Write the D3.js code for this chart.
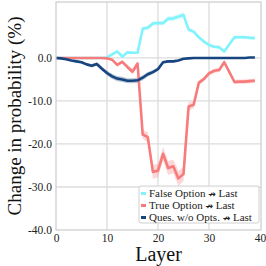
<!DOCTYPE html>
<html>
<head>
<meta charset="utf-8">
<script src="https://cdn.jsdelivr.net/npm/d3@7"></script>
<style>
  body { margin: 0; background: #fff; }
  svg { display: block; }
</style>
</head>
<body>
<svg id="chart"></svg>
<script>
// values, layers 0..39
const layers = d3.range(0, 40);

const falseOpt = [0, 0, 0, 0, 0, 0, 0, 0, 0, 0,
  0.1, 0.8, 1.5, 0.3, 1.3, 1.2, 1.2, 6.8, 7.0, 8.0,
  8.1, 8.1, 9.1, 9.2, 9.6, 10.0, 6.6, 6.1, 4.8, 3.8,
  3.0, 2.6, 2.5, 1.5, 3.2, 4.8, 4.8, 4.8, 4.7, 4.6];
const trueOpt = [0, 0, 0, 0, 0, 0, 0, 0, 0, 0,
  -0.1, -0.4, -1.6, -0.9, -2.1, -3.2, -1.3, -17.8, -18.4, -26.5,
  -26.2, -22.3, -25.6, -25.2, -28.0, -27.0, -11.3, -10.9, -5.8, -4.9,
  -3.6, -3.0, -2.8, -1.0, -3.3, -5.6, -5.5, -5.5, -5.4, -5.3];
const quesOnly = [0, -0.1, -0.3, -0.6, -0.8, -1.0, -1.5, -1.8, -1.4, -2.5,
  -3.5, -4.3, -4.8, -5.0, -5.3, -5.3, -5.2, -4.6, -3.8, -3.3,
  -2.6, -1.0, -0.8, -0.8, -0.6, -0.2, -0.1, 0, 0, 0,
  0, 0, 0, 0, 0, 0, 0, 0, 0.1, 0.1];

// half width of the shaded band
const falseErr = [0, 0, 0, 0, 0, 0, 0, 0, 0, 0.1,
  0.2, 0.3, 0.3, 0.3, 0.3, 0.3, 0.3, 0.5, 0.5, 0.5,
  0.5, 0.5, 0.6, 0.6, 0.6, 0.6, 0.5, 0.4, 0.4, 0.4,
  0.4, 0.4, 0.4, 0.4, 0.4, 0.4, 0.4, 0.4, 0.4, 0.4];
const trueErr = [0, 0, 0, 0, 0, 0, 0, 0, 0, 0,
  0.1, 0.2, 0.4, 0.4, 0.5, 0.6, 0.6, 1.0, 1.2, 1.6,
  1.6, 1.6, 1.6, 1.6, 1.8, 1.6, 1.0, 0.8, 0.6, 0.5,
  0.5, 0.5, 0.5, 0.5, 0.5, 0.5, 0.5, 0.5, 0.5, 0.5];
const quesErr = [0, 0.1, 0.2, 0.2, 0.3, 0.3, 0.3, 0.4, 0.4, 0.5,
  0.5, 0.6, 0.6, 0.6, 0.6, 0.6, 0.6, 0.6, 0.5, 0.5,
  0.4, 0.3, 0.3, 0.3, 0.2, 0.2, 0.1, 0.1, 0.1, 0.1,
  0.1, 0.1, 0.1, 0.1, 0.1, 0.1, 0.1, 0.1, 0.1, 0.1];

const seriesNames = ["False Option", "True Option", "Ques. w/o Opts."];
const colors = ["#80f3fd", "#f77b7b", "#17457f"];

const xTicks = [0, 10, 20, 30, 40];
const yTicks = [0, -10, -20, -30, -40];

const series = [
  { name: seriesNames[0], values: falseOpt, err: falseErr, color: colors[0] },
  { name: seriesNames[1], values: trueOpt, err: trueErr, color: colors[1] },
  { name: seriesNames[2], values: quesOnly, err: quesErr, color: colors[2] },
];

const W = 266, H = 266;
const margin = { top: 2, right: 5, bottom: 36, left: 56 };
const svg = d3.select("#chart").attr("width", W).attr("height", H);

const x = d3.scaleLinear().domain([0, 40.2]).range([margin.left, W - margin.right]);
const y = d3.scaleLinear().domain([-40, 13]).range([H - margin.bottom, margin.top]);

const font = "'Liberation Serif', 'DejaVu Serif', serif";
const gridColor = "#dcdcdc";

// grid
const grid = svg.append("g");
grid.selectAll(".gx").data(xTicks.filter(d => d > 0 && d < 40)).enter().append("line")
  .attr("x1", d => x(d)).attr("x2", d => x(d))
  .attr("y1", y.range()[0]).attr("y2", y.range()[1])
  .attr("stroke", gridColor).attr("stroke-width", 1.3);
grid.selectAll(".gy").data(yTicks.filter(d => d > -40)).enter().append("line")
  .attr("y1", d => y(d)).attr("y2", d => y(d))
  .attr("x1", x.range()[0]).attr("x2", x.range()[1])
  .attr("stroke", gridColor).attr("stroke-width", 1.3);

// bands + lines
const area = d3.area()
  .x((d, i) => x(layers[i]))
  .y0(d => y(d[0]))
  .y1(d => y(d[1]));
const line = d3.line()
  .x((d, i) => x(layers[i]))
  .y(d => y(d));

series.forEach(s => {
  const band = s.values.map((v, i) => [v - s.err[i], v + s.err[i]]);
  svg.append("path").datum(band)
    .attr("d", area)
    .attr("fill", s.color).attr("opacity", 0.3);
});
series.forEach(s => {
  svg.append("path").datum(s.values)
    .attr("d", line)
    .attr("fill", "none")
    .attr("stroke", s.color)
    .attr("stroke-width", 2.6)
    .attr("stroke-linejoin", "round");
});

// frame
svg.append("rect")
  .attr("x", x.range()[0]).attr("y", y.range()[1])
  .attr("width", x.range()[1] - x.range()[0])
  .attr("height", y.range()[0] - y.range()[1])
  .attr("fill", "none").attr("stroke", "#d0d0d0").attr("stroke-width", 1.3);

// axes
const xAxis = svg.append("g")
  .attr("transform", `translate(0,${y.range()[0]})`)
  .call(d3.axisBottom(x).tickValues(xTicks).tickSize(0).tickPadding(4));
const yAxis = svg.append("g")
  .attr("transform", `translate(${x.range()[0]},0)`)
  .call(d3.axisLeft(y).tickValues(yTicks).tickSize(0).tickPadding(4).tickFormat(d3.format(".1f")));
[xAxis, yAxis].forEach(a => {
  a.select(".domain").remove();
  a.selectAll("text").attr("font-family", font).attr("font-size", 11.5).attr("fill", "#222");
});
yAxis.selectAll("text").text(d => d3.format(".1f")(d).replace("\u2212", "-"));

// labels
svg.append("text")
  .attr("x", (x.range()[0] + x.range()[1]) / 2).attr("y", 261)
  .attr("text-anchor", "middle")
  .attr("font-family", font).attr("font-size", 20).attr("fill", "#111")
  .text("Layer");
svg.append("text")
  .attr("transform", `translate(21,${(y.range()[0] + y.range()[1]) / 2}) rotate(-90)`)
  .attr("text-anchor", "middle")
  .attr("font-family", font).attr("font-size", 19).attr("fill", "#111")
  .text("Change in probability (%)");

// legend
const lg = svg.append("g").attr("transform", "translate(139,186)");
lg.append("rect")
  .attr("width", 120).attr("height", 37).attr("rx", 2)
  .attr("fill", "#fff").attr("fill-opacity", 0.85)
  .attr("stroke", "#d0d0d0").attr("stroke-width", 1);
series.forEach((s, i) => {
  const row = lg.append("g").attr("transform", `translate(0,${7.5 + i * 12})`);
  row.append("line")
    .attr("x1", 2).attr("x2", 7).attr("y1", 0).attr("y2", 0)
    .attr("stroke", s.color).attr("stroke-width", 3);
  const t = row.append("text")
    .attr("x", 10).attr("y", 0).attr("dy", "0.35em")
    .attr("font-family", font).attr("font-size", 11).attr("fill", "#222");
  t.append("tspan").text(s.name + " ");
  t.append("tspan").attr("font-family", "'DejaVu Sans'").attr("font-size", 9)
    .attr("font-weight", "bold").text("\u219B");
  t.append("tspan").text(" Last");
});
</script>
</body>
</html>
